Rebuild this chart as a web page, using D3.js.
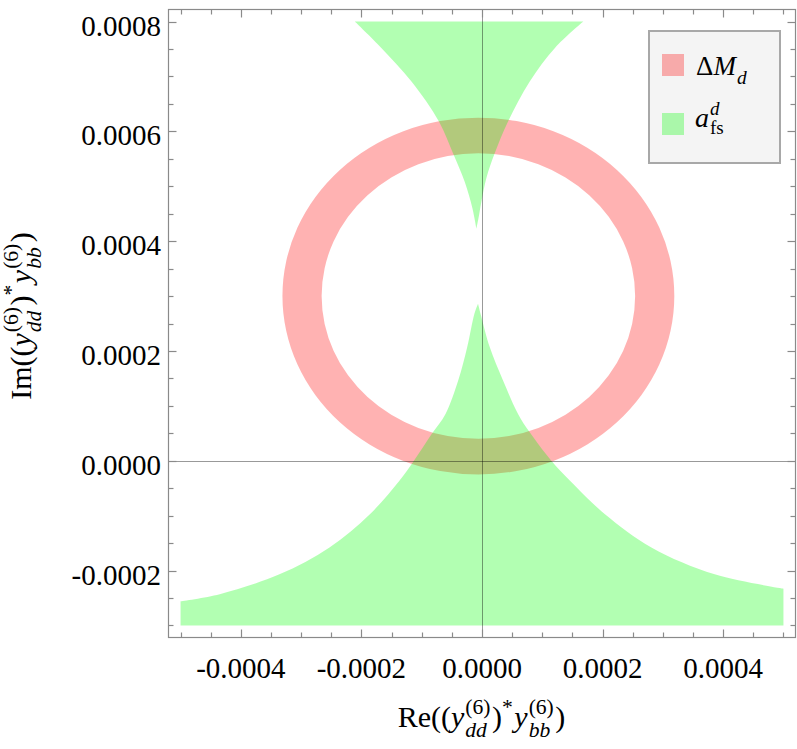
<!DOCTYPE html>
<html>
<head>
<meta charset="utf-8">
<script src="https://cdn.jsdelivr.net/npm/d3@7"></script>
<style>
  body { margin: 0; background: #fff; }
  text { font-family: "Liberation Serif", "DejaVu Serif", serif; fill: #000; font-weight: normal; }
</style>
</head>
<body>
<div id="chart"></div>
<script>
// tick values
var xTicks = [-0.0004, -0.0002, 0, 0.0002, 0.0004];
var yTicks = [-0.0002, 0, 0.0002, 0.0004, 0.0006, 0.0008];
var xMinor = d3.range(-0.0005, 0.00050001, 0.00005);
var yMinor = d3.range(-0.0003, 0.00080001, 0.00005);

// Delta M_d ring: centre and inner / outer radius
var ringCenter = [-0.000006, 0.0003];
var ringRadii = [0.00026, 0.000325];

// a_fs^d allowed region, boundaries
var afsTopLeft = [[-0.000211, 0.0008], [-0.000167, 0.000752], [-0.000117, 0.000691], [-0.0000714, 0.000618],
  [-0.0000481, 0.00056], [-0.0000287, 0.000508], [-0.0000159, 0.00046], [-0.0000093, 0.000423]];
var afsTopRight = [[-0.0000093, 0.000423], [-0.000006, 0.000441], [-0.000001, 0.000472], [0.0000073, 0.000515],
  [0.0000211, 0.00056], [0.0000432, 0.000618], [0.0000792, 0.000691], [0.000121, 0.000752], [0.000168, 0.0008]];
var afsBottomLeft = [[-0.0005, -0.000256], [-0.000435, -0.000243], [-0.000336, -0.000207], [-0.000253, -0.000158],
  [-0.000186, -0.0000974], [-0.000137, -0.0000365], [-0.000113, 0], [-0.0000835, 0.0000487], [-0.0000605, 0.0000853],
  [-0.0000395, 0.000146], [-0.0000245, 0.000207], [-0.0000125, 0.000268], [-0.0000066, 0.000286]];
var afsBottomRight = [[-0.0000066, 0.000286], [-0.000001, 0.000262], [0.0000128, 0.000207], [0.0000349, 0.000146],
  [0.0000598, 0.0000853], [0.0000792, 0.0000517], [0.000115, 0], [0.000146, -0.0000365], [0.000204, -0.0000974],
  [0.000281, -0.000158], [0.000386, -0.000207], [0.0005, -0.000233]];
var afsFloor = -0.0003;

var legendNames = ["dm", "afs"];
var legendColors = ["#ff0000", "#00ff00"];

// axis titles as pieces: plain text or stacked sup/sub
var titlePieces = [
  {t: "(("}, {t: "y", it: true}, {sup: "(6)", sub: "dd"}, {t: ")"}, {sup: "*"},
  {t: "y", it: true}, {sup: "(6)", sub: "bb"}, {t: ")"}
];

var width = 797, height = 749;
var svg = d3.select("#chart").append("svg")
  .attr("width", width)
  .attr("height", height);

var x = d3.scaleLinear().domain([-0.00052, 0.00052]).range([168.5, 795.5]);
var y = d3.scaleLinear().domain([-0.000322, 0.000822]).range([637.5, 9.5]);

var grey = "#8a8a8a";
var serif = "'Liberation Serif', 'DejaVu Serif', serif";

// ring
var cx = x(ringCenter[0]), cy = y(ringCenter[1]);
var ringPath = "";
ringRadii.forEach(function(r) {
  var rx = x(ringCenter[0] + r) - cx;
  var ry = cy - y(ringCenter[1] + r);
  ringPath += "M" + (cx + rx) + "," + cy +
    "A" + rx + "," + ry + " 0 1 0 " + (cx - rx) + "," + cy +
    "A" + rx + "," + ry + " 0 1 0 " + (cx + rx) + "," + cy + "Z";
});
svg.append("path")
  .attr("d", ringPath)
  .attr("fill", legendColors[0])
  .attr("fill-opacity", 0.3)
  .attr("fill-rule", "evenodd");

// green region
var line = d3.line()
  .x(function(d) { return x(d[0]); })
  .y(function(d) { return y(d[1]); })
  .curve(d3.curveCatmullRom.alpha(0.5));

var topPath = line(afsTopLeft) + "L" + line(afsTopRight).slice(1) + "Z";
var botPath = "M" + x(afsBottomLeft[0][0]) + "," + y(afsFloor) +
  "L" + line(afsBottomLeft).slice(1) +
  "L" + line(afsBottomRight).slice(1) +
  "L" + x(afsBottomRight[afsBottomRight.length - 1][0]) + "," + y(afsFloor) + "Z";

svg.selectAll(".afs")
  .data([topPath, botPath])
  .enter().append("path")
  .attr("class", "afs")
  .attr("d", function(d) { return d; })
  .attr("fill", legendColors[1])
  .attr("fill-opacity", 0.3);

// zero lines
svg.append("line")
  .attr("x1", x.range()[0]).attr("x2", x.range()[1])
  .attr("y1", Math.round(y(0)) + 0.5).attr("y2", Math.round(y(0)) + 0.5)
  .attr("stroke", "#000").attr("stroke-opacity", 0.4);
svg.append("line")
  .attr("y1", y.range()[0]).attr("y2", y.range()[1])
  .attr("x1", Math.round(x(0)) + 0.5).attr("x2", Math.round(x(0)) + 0.5)
  .attr("stroke", "#000").attr("stroke-opacity", 0.4);

// frame
svg.append("rect")
  .attr("x", x.range()[0]).attr("y", y.range()[1])
  .attr("width", x.range()[1] - x.range()[0])
  .attr("height", y.range()[0] - y.range()[1])
  .attr("fill", "none").attr("stroke", grey).attr("stroke-width", 1.2);

function isMajor(v, list) {
  return list.some(function(t) { return Math.abs(t - v) < 1e-9; });
}
function fmt(d) { return d3.format(".4f")(d).replace("\u2212", "-"); }

// x ticks, bottom and top
var xt = svg.append("g");
xMinor.forEach(function(v) {
  var len = isMajor(v, xTicks) ? 8 : 5;
  var px = Math.round(x(v)) + 0.5;
  xt.append("line").attr("x1", px).attr("x2", px)
    .attr("y1", y.range()[0]).attr("y2", y.range()[0] - len)
    .attr("stroke", grey).attr("stroke-width", 1.2);
  xt.append("line").attr("x1", px).attr("x2", px)
    .attr("y1", y.range()[1]).attr("y2", y.range()[1] + len)
    .attr("stroke", grey).attr("stroke-width", 1.2);
});
xt.selectAll(".xl")
  .data(xTicks)
  .enter().append("text")
  .attr("class", "xl")
  .attr("x", function(d) { return x(d); })
  .attr("y", 678)
  .attr("text-anchor", "middle")
  .attr("font-family", serif)
  .style("font-size", "29px")
  .text(fmt);

// y ticks, left and right
var yt = svg.append("g");
yMinor.forEach(function(v) {
  var len = isMajor(v, yTicks) ? 8 : 5;
  var py = Math.round(y(v)) + 0.5;
  yt.append("line").attr("y1", py).attr("y2", py)
    .attr("x1", x.range()[0]).attr("x2", x.range()[0] + len)
    .attr("stroke", grey).attr("stroke-width", 1.2);
  yt.append("line").attr("y1", py).attr("y2", py)
    .attr("x1", x.range()[1]).attr("x2", x.range()[1] - len)
    .attr("stroke", grey).attr("stroke-width", 1.2);
});
yt.selectAll(".yl")
  .data(yTicks)
  .enter().append("text")
  .attr("class", "yl")
  .attr("x", 161)
  .attr("y", function(d) { return y(d) + 14; })
  .attr("text-anchor", "end")
  .attr("font-family", serif)
  .style("font-size", "29px")
  .text(fmt);

// lay out text pieces left to right, returns total width
function mathText(g, pieces, size) {
  var cur = 0;
  pieces.forEach(function(p) {
    if (p.t !== undefined) {
      var el = g.append("text").attr("x", cur).attr("y", 0)
        .attr("font-family", serif)
        .style("font-size", size + "px")
        .style("font-style", p.it ? "italic" : "normal")
        .text(p.t);
      cur += el.node().getComputedTextLength() + (p.it ? 1 : 0);
    } else {
      var w = 0;
      if (p.sup) {
        var s = g.append("text").attr("x", cur).attr("y", -size * 0.45)
          .attr("font-family", serif)
          .style("font-size", (size * 0.72) + "px")
          .text(p.sup);
        w = Math.max(w, s.node().getComputedTextLength());
      }
      if (p.sub) {
        var b = g.append("text").attr("x", cur).attr("y", size * 0.32)
          .attr("font-family", serif)
          .style("font-size", (size * 0.72) + "px")
          .style("font-style", "italic")
          .text(p.sub);
        w = Math.max(w, b.node().getComputedTextLength());
      }
      cur += w + 1.5;
    }
  });
  return cur;
}

// x title
var xg = svg.append("g");
var xw = mathText(xg, [{t: "Re"}].concat(titlePieces), 30);
xg.attr("transform", "translate(" + (481.5 - xw / 2) + ",727)");

// y title
var yg = svg.append("g");
var yw = mathText(yg, [{t: "Im"}].concat(titlePieces), 30);
yg.attr("transform", "translate(31," + (316 + yw / 2) + ") rotate(-90)");

// legend
var lg = svg.append("g");
lg.append("rect")
  .attr("x", 649).attr("y", 31).attr("width", 131).attr("height", 132)
  .attr("fill", "#f4f4f4").attr("stroke", "#a8a8a8").attr("stroke-width", 2);
lg.selectAll(".sw")
  .data(legendNames)
  .enter().append("rect")
  .attr("class", "sw")
  .attr("x", 662)
  .attr("y", function(d, i) { return 54 + i * 59; })
  .attr("width", 22).attr("height", 22)
  .attr("fill", function(d, i) { return legendColors[i]; })
  .attr("fill-opacity", 0.3);

var l1 = lg.append("g").attr("transform", "translate(696,75)");
mathText(l1, [{t: "\u0394"}, {t: "M", it: true}, {sub: "d"}], 27);
var l2 = lg.append("g").attr("transform", "translate(695,127)");
var aw = l2.append("text").attr("font-family", serif).style("font-size", "28px").style("font-style", "italic").text("a");
var ax = aw.node().getComputedTextLength() + 1;
l2.append("text").attr("x", ax).attr("y", -12).attr("font-family", serif).style("font-size", "19px").style("font-style", "italic").text("d");
l2.append("text").attr("x", ax).attr("y", 7).attr("font-family", serif).style("font-size", "19px").text("fs");
</script>
</body>
</html>
